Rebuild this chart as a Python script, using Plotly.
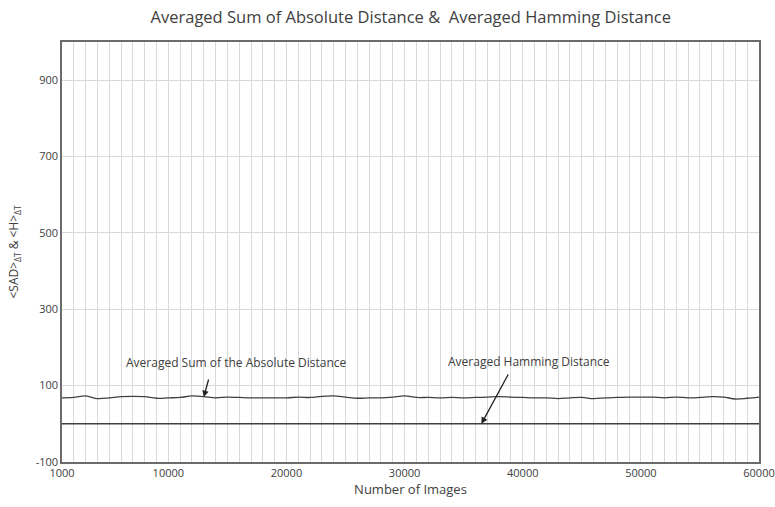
import plotly.graph_objects as go

images = list(range(1000, 61000, 1000))
sad = [68, 69, 73, 66, 68, 71, 72, 71, 67, 68, 69, 73, 71, 68, 70, 69, 68, 68, 68, 68,
       70, 69, 72, 73, 70, 67, 68, 68, 70, 73, 69, 69, 68, 69, 68, 69, 70, 71, 70, 69,
       68, 68, 66, 68, 69, 66, 68, 69, 70, 70, 70, 68, 70, 68, 69, 71, 70, 65, 67, 70]
hamming = [0] * len(images)

x_ticks = [1000, 10000, 20000, 30000, 40000, 50000, 60000]
y_ticks = [-100, 100, 300, 500, 700, 900]
y_tick_labels = ["-100", "100", "300", "500", "700", "900"]

L, R, T, B = 62, 16, 42, 45
W, H = 775, 507
pw, ph = W - L - R, H - T - B
XMIN, XMAX, YMIN, YMAX = 1000, 60000, -100, 1000


def px_to_data(px, py):
    return (XMIN + (px - L) / pw * (XMAX - XMIN), YMAX - (py - T) / ph * (YMAX - YMIN))


def data_to_px(xv, yv):
    return (L + (xv - XMIN) / (XMAX - XMIN) * pw, T + (YMAX - yv) / (YMAX - YMIN) * ph)


fig = go.Figure()
fig.add_trace(go.Scatter(x=images, y=sad, mode="lines", line=dict(color="#404040", width=1.3),
                         line_shape="spline", showlegend=False))
fig.add_trace(go.Scatter(x=images, y=hamming, mode="lines", line=dict(color="#404040", width=1.5),
                         showlegend=False))

txt = "#404040"

for (hx, hy), (tx, ty) in [((13000, 70), (209, 378)), ((36500, 0), (509, 373))]:
    hpx, hpy = data_to_px(hx, hy)
    fig.add_annotation(x=hx, y=hy, ax=tx - hpx, ay=ty - hpy, xref="x", yref="y",
                       text="", showarrow=True, arrowhead=2, arrowsize=1,
                       arrowwidth=1.3, arrowcolor="#222")

for label, (lx, ly) in [("Averaged Sum of the Absolute Distance", (236, 362)),
                        ("Averaged Hamming Distance", (529, 361))]:
    dx, dy = px_to_data(lx, ly)
    fig.add_annotation(x=dx, y=dy, xref="x", yref="y", text=label, showarrow=False,
                       xanchor="center", yanchor="middle", font=dict(size=12, color=txt))

fig.update_layout(
    width=W, height=H,
    margin=dict(l=L, r=R, t=T, b=B, autoexpand=False),
    paper_bgcolor="white", plot_bgcolor="white",
    font=dict(family="Open Sans", color=txt, size=11),
    title=dict(text="Averaged Sum of Absolute Distance &amp;  Averaged Hamming Distance",
               x=0.53, xanchor="center", y=0.967, yanchor="middle",
               font=dict(size=16.5, color=txt)),
    xaxis=dict(range=[XMIN, XMAX], tickvals=x_ticks, ticktext=[str(v) for v in x_ticks],
               showgrid=False, zeroline=False, automargin=False,
               minor=dict(dtick=1000, tick0=0, showgrid=True, gridcolor="#d9d9d9", gridwidth=1),
               showline=True, linecolor="#6b6b6b", linewidth=1.5, mirror=True,
               ticks="", tickfont=dict(size=11, color=txt),
               title=dict(text="Number of Images", font=dict(size=13, color=txt), standoff=4)),
    yaxis=dict(range=[YMIN, YMAX], tickvals=y_ticks, ticktext=y_tick_labels,
               showgrid=True, gridcolor="#d9d9d9", automargin=False,
               gridwidth=1, zeroline=False,
               showline=True, linecolor="#6b6b6b", linewidth=1.5, mirror=True,
               ticks="", tickfont=dict(size=11, color=txt),
               title=dict(text="&lt;SAD&gt;<sub>ΔT</sub> &amp; &lt;H&gt;<sub>ΔT</sub>",
                          font=dict(size=12, color=txt), standoff=14)),
)

fig.write_html("out.html", config={"displayModeBar": False},
               post_script="document.body.style.margin='0';")
